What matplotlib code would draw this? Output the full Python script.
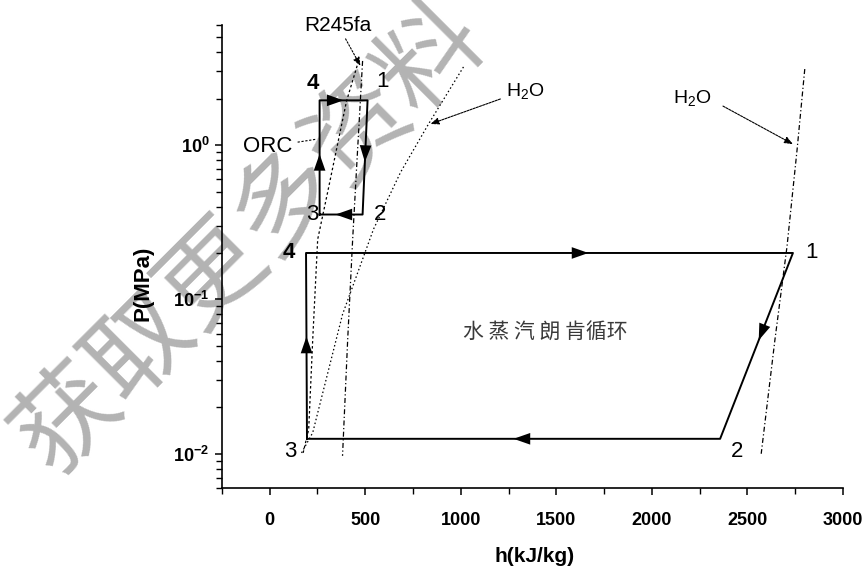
import numpy as np
import matplotlib
matplotlib.use('Agg')
import matplotlib.pyplot as plt
from matplotlib.ticker import FixedLocator, NullFormatter

plt.rcParams['font.family'] = ['Liberation Sans', 'DejaVu Sans']
plt.rcParams['mathtext.fontset'] = 'custom'
plt.rcParams['mathtext.rm'] = 'Liberation Sans'
plt.rcParams['mathtext.bf'] = 'Liberation Sans:bold'

# saturation lines, h in kJ/kg, P in MPa
r245_liq_h = [465, 402, 303, 251, 225, 204, 172]
r245_liq_p = [3.51, 1.93, 0.495, 0.245, 0.055, 0.0144, 0.0098]
r245_vap_h = [486, 460, 434, 408, 381]
r245_vap_p = [3.51, 0.94, 0.245, 0.055, 0.0097]
h2o_liq_h = [1014, 831, 685, 543, 381, 225, 162]
h2o_liq_p = [3.21, 1.37, 0.668, 0.285, 0.080, 0.0137, 0.0099]
h2o_vap_h = [2800, 2760, 2707, 2644, 2572]
h2o_vap_p = [3.11, 0.94, 0.22, 0.055, 0.0100]

# steam Rankine cycle 3-4-1-2-3
steam_h = [195, 190, 2738, 2357, 195]
steam_p = [0.0125, 0.2, 0.2, 0.0125, 0.0125]
# ORC (R245fa) cycle 3-4-1-2-3
orc_h = [261, 261, 512, 486, 261]
orc_p = [0.355, 1.95, 1.95, 0.355, 0.355]

fig = plt.figure(figsize=(8.67, 5.66), dpi=100)
ax = fig.add_axes([0.256, 0.1378, 0.7163, 0.818])
ax.set_zorder(1)
ax.patch.set_alpha(0)

fig.text(0.29, 0.58, '获取更多资料', fontsize=74, rotation=45,
         color='#b3b3b3', ha='center', va='center', rotation_mode='anchor',
         family=['Noto Sans CJK SC', 'DejaVu Sans'], zorder=0)

ax.set_yscale('log')
ax.set_xlim(-250, 3000)
ax.set_ylim(0.006, 6)

sat_lw = 0.9
ax.plot(r245_liq_h, r245_liq_p, color='k', lw=sat_lw, ls=(0, (2, 2)))
ax.plot(r245_vap_h, r245_vap_p, color='k', lw=sat_lw, ls=(0, (4, 2, 1, 2)))
ax.plot(h2o_liq_h, h2o_liq_p, color='k', lw=sat_lw, ls=(0, (1.2, 2)))
ax.plot(h2o_vap_h, h2o_vap_p, color='k', lw=sat_lw, ls=(0, (4, 2, 1, 2)))

ax.plot(steam_h, steam_p, color='k', lw=1.4)
ax.plot(orc_h, orc_p, color='k', lw=1.4)


def head(h, p, i, t):
    # filled arrowhead at fraction t of segment i, pointing along the flow
    h1, h2 = h[i], h[i + 1]
    p1, p2 = p[i], p[i + 1]
    def at(s):
        return h1 + s * (h2 - h1), p1 * (p2 / p1) ** s
    ax.annotate('', xy=at(t), xytext=at(t - 0.02),
                arrowprops=dict(arrowstyle='-|>,head_length=1.2,head_width=0.42',
                                mutation_scale=10, color='k', lw=0,
                                shrinkA=0, shrinkB=0))


head(steam_h, steam_p, 0, 0.55)
head(steam_h, steam_p, 1, 0.58)
head(steam_h, steam_p, 2, 0.47)
head(steam_h, steam_p, 3, 0.50)
head(orc_h, orc_p, 0, 0.53)
head(orc_h, orc_p, 1, 0.50)
head(orc_h, orc_p, 2, 0.54)
head(orc_h, orc_p, 3, 0.63)

# state point numbers
lab = dict(fontsize=16, ha='center', va='center')
ax.text(99, 0.202, '4', fontweight='bold', **lab)
ax.text(2837, 0.202, '1', **lab)
ax.text(2445, 0.0103, '2', **lab)
ax.text(110, 0.0103, '3', **lab)
ax.text(225, 2.49, '4', fontweight='bold', **lab)
ax.text(590, 2.6, '1', **lab)
ax.text(222, 0.356, '3', **lab)
ax.text(575, 0.356, '2', **lab)

ax.text(1442, 0.062, '水 蒸 汽 朗 肯循环', fontsize=15, color='#3a3a3a',
        ha='center', va='center', family=['Noto Sans CJK SC', 'DejaVu Sans'])

# curve labels with leader arrows
ax.text(355, 5.93, 'R245fa', fontsize=15, ha='center', va='center')
ax.annotate('', xy=(475, 3.26), xytext=(397, 4.88),
            arrowprops=dict(arrowstyle='-|>,head_length=0.5,head_width=0.2',
                            color='k', lw=0.8, ls=(0, (1.5, 1.5)),
                            shrinkA=0, shrinkB=0))
ax.text(1338, 2.21, 'H$_2$O', fontsize=14, ha='center', va='center')
ax.annotate('', xy=(841, 1.37), xytext=(1207, 1.99),
            arrowprops=dict(arrowstyle='-|>,head_length=0.5,head_width=0.2',
                            color='k', lw=0.8, ls=(0, (2, 1)),
                            shrinkA=0, shrinkB=0))
ax.text(2210, 1.99, 'H$_2$O', fontsize=14, ha='center', va='center')
ax.annotate('', xy=(2738, 1.015), xytext=(2372, 1.79),
            arrowprops=dict(arrowstyle='-|>,head_length=0.5,head_width=0.2',
                            color='k', lw=0.8, ls=(0, (2, 1)),
                            shrinkA=0, shrinkB=0))
ax.text(-10, 0.985, 'ORC', fontsize=16, ha='center', va='center')
ax.plot([146, 240], [1.045, 1.09], color='k', lw=0.8, ls=(0, (2, 1.5)))

# axes styling
for s in ['top', 'right']:
    ax.spines[s].set_visible(False)
for s in ['left', 'bottom']:
    ax.spines[s].set_linewidth(1.2)

ax.set_xticks([0, 500, 1000, 1500, 2000, 2500, 3000])
ax.xaxis.set_minor_locator(FixedLocator([-250, 250, 750, 1250, 1750, 2250, 2750]))
ax.set_yticks([0.01, 0.1, 1])
ax.set_yticklabels([r'$\mathbf{10^{-2}}$', r'$\mathbf{10^{-1}}$', r'$\mathbf{10^{0}}$'])
ax.yaxis.set_minor_formatter(NullFormatter())
ax.tick_params(which='major', length=5, width=1.1, labelsize=13, direction='out')
ax.tick_params(which='minor', length=4, width=1.0, direction='out')
for t in ax.get_xticklabels():
    t.set_fontweight('bold')
ax.tick_params(axis='x', pad=12)
ax.tick_params(axis='y', pad=4)

ax.set_xlabel('h(kJ/kg)', fontsize=15, fontweight='bold')
ax.set_ylabel('P(MPa)', fontsize=16, fontweight='bold')
ax.xaxis.set_label_coords(0.504, -0.128)
ax.yaxis.set_label_coords(-0.11, 0.443)

fig.savefig('out.png', dpi=100)
